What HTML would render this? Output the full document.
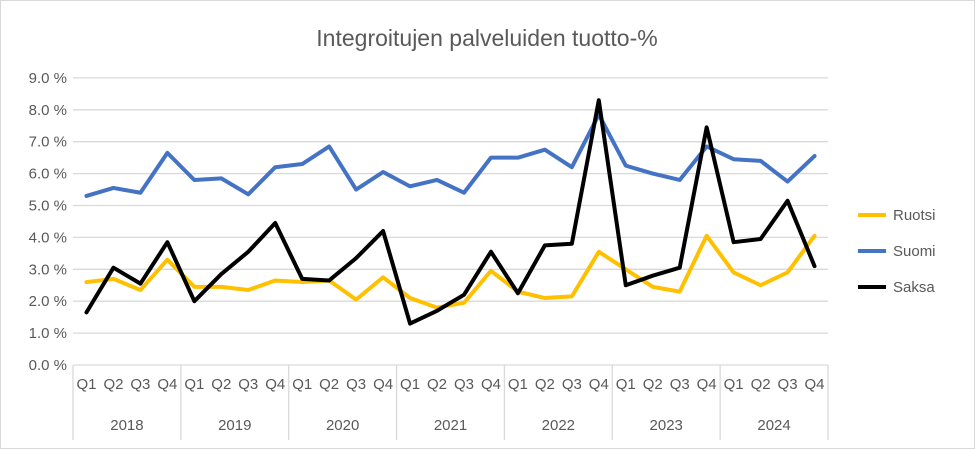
<!DOCTYPE html>
<html><head><meta charset="utf-8"><style>
body{margin:0;background:#fff}
svg{display:block;font-family:"Liberation Sans",sans-serif}
</style></head><body>
<svg id="c" width="975" height="449">
<rect x="0.5" y="0.5" width="974" height="448" fill="#fff" stroke="#d9d9d9"/>
<text x="487" y="46" text-anchor="middle" font-size="23" fill="#595959">Integroitujen palveluiden tuotto-%</text>
<g id="grid"></g><g id="axes"></g><g id="series"></g><g id="legend"></g>
</svg>
<script>
const quarters=["Q1","Q2","Q3","Q4"];
const years=["2018","2019","2020","2021","2022","2023","2024"];
const yTicks=[0,1,2,3,4,5,6,7,8,9];
const seriesNames=["Ruotsi","Suomi","Saksa"];
const ruotsi=[2.6,2.7,2.35,3.3,2.45,2.45,2.35,2.65,2.6,2.65,2.05,2.75,2.1,1.8,1.95,2.95,2.3,2.1,2.15,3.55,3.0,2.45,2.3,4.05,2.9,2.5,2.9,4.05];
const suomi=[5.3,5.55,5.4,6.65,5.8,5.85,5.35,6.2,6.3,6.85,5.5,6.05,5.6,5.8,5.4,6.5,6.5,6.75,6.2,7.85,6.25,6.0,5.8,6.85,6.45,6.4,5.75,6.55];
const saksa=[1.65,3.05,2.55,3.85,2.0,2.85,3.55,4.45,2.7,2.65,3.35,4.2,1.3,1.7,2.2,3.55,2.25,3.75,3.8,8.3,2.5,2.8,3.05,7.45,3.85,3.95,5.15,3.1];

const NS="http://www.w3.org/2000/svg";
const L=73,R=828,Y0=365,PER=31.9;
const n=years.length*4, cw=(R-L)/n;
const xs=i=>L+cw*(i+0.5);
const ys=v=>Y0-v*PER;
function mk(p,tag,at){const e=document.createElementNS(NS,tag);for(const k in at)e.setAttribute(k,at[k]);p.appendChild(e);return e;}
const grid=document.getElementById('grid'),axes=document.getElementById('axes'),ser=document.getElementById('series'),leg=document.getElementById('legend');
yTicks.forEach(t=>{
  if(t>0){const g=mk(grid,'line',{x1:L,x2:R,y1:ys(t),y2:ys(t),stroke:'#d9d9d9','stroke-width':1.3});
  
  }
  const tx=mk(axes,'text',{x:67,y:ys(t)+5,'text-anchor':'end','font-size':15,fill:'#595959'});
  tx.textContent=t.toFixed(1)+' %';
  
  
});
const ax=mk(axes,'line',{x1:L,x2:R,y1:Y0,y2:Y0,stroke:'#d9d9d9','stroke-width':1.3});


for(let y=0;y<=years.length;y++){
  const xx=L+cw*4*y;
  const s=mk(axes,'line',{x1:xx,x2:xx,y1:Y0,y2:440,stroke:'#d9d9d9','stroke-width':1.3});
  
  
}
for(let i=0;i<n;i++){
  const t=mk(axes,'text',{x:xs(i),y:389,'text-anchor':'middle','font-size':15,fill:'#595959'});
  t.textContent=quarters[i%4];
  
  
}
years.forEach((yr,j)=>{
  const t=mk(axes,'text',{x:L+cw*(4*j+2),y:430,'text-anchor':'middle','font-size':15,fill:'#595959'});
  t.textContent=yr;
  
  
});
const data=[ruotsi,suomi,saksa],cols=['#ffc000','#4472c4','#000000'];
data.forEach((d,k)=>{
  const p=mk(ser,'polyline',{points:d.map((v,i)=>xs(i)+','+ys(v)).join(' '),fill:'none',stroke:cols[k],'stroke-width':4,'stroke-linejoin':'round','stroke-linecap':'round'});
  
  
  const ly=215+k*36;
  const g=mk(leg,'g',{});
  
  
  mk(g,'line',{x1:858,x2:886,y1:ly,y2:ly,stroke:cols[k],'stroke-width':4});
  const t=mk(g,'text',{x:893,y:ly+5,'font-size':15,fill:'#595959'});
  t.textContent=seriesNames[k];
});
</script>
</body></html>
